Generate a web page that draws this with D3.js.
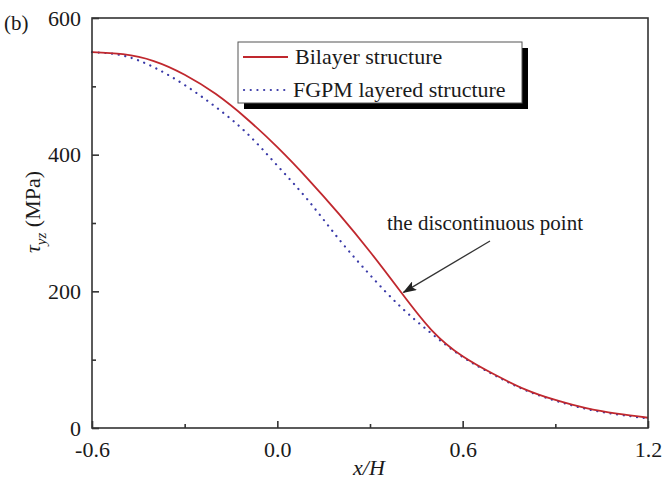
<!DOCTYPE html>
<html><head><meta charset="utf-8">
<script src="https://cdn.jsdelivr.net/npm/d3@7"></script>
<style>body{margin:0;background:#fff}svg{display:block}text{font-family:"Liberation Serif","DejaVu Serif",serif;fill:#1a1a1a}</style>
</head><body>
<svg id="c" width="662" height="490"></svg>
<script>
const xs = [-0.6,-0.5,-0.4,-0.3,-0.2,-0.1,0.0,0.1,0.2,0.3,0.4,0.5,0.6,0.7,0.8,0.9,1.0,1.1,1.2];
const bilayer = [550,547,537,517,489,453,411,364,313,258,199,143,105,79,57,41,29,21,15];
const fgpm = [550,545,528,502,470,432,384,333,276,224,177,138,104,78,56,40,28,20,14];
const xTicks = [-0.6,0.0,0.6,1.2];
const xMinor = [-0.3,0.3,0.9];
const yTicks = [0,200,400,600];
const yMinor = [100,300,500];
const legendLabels = ["Bilayer structure","FGPM layered structure"];

const svg = d3.select("#c");
const L=92,R=648,T=18,B=428;
const x = d3.scaleLinear().domain([-0.6,1.2]).range([L,R]);
const y = d3.scaleLinear().domain([0,600]).range([B,T]);
const axCol="#333";

const line = d3.line().curve(d3.curveNatural).x(d=>x(d[0])).y(d=>y(d[1]));
const gPlot = svg.append("g");
gPlot.append("path").datum(xs.map((v,i)=>[v,fgpm[i]])).attr("d",line)
  .attr("fill","none").attr("stroke","#3a3aa8").attr("stroke-width",2.2)
  .attr("stroke-dasharray","0.1,6.6").attr("stroke-linecap","round");
gPlot.append("path").datum(xs.map((v,i)=>[v,bilayer[i]])).attr("d",line)
  .attr("fill","none").attr("stroke","#c0282e").attr("stroke-width",1.8);

// frame
svg.append("rect").attr("x",L).attr("y",T).attr("width",R-L).attr("height",B-T)
  .attr("fill","none").attr("stroke",axCol).attr("stroke-width",1.6);

// axes with inward ticks
const fmtX = d => d3.format(".1f")(d).replace("−","-");
const xAxis = d3.axisBottom(x).tickValues(xTicks).tickSize(-7).tickPadding(13).tickFormat(fmtX);
const gx = svg.append("g").attr("transform",`translate(0,${B})`).call(xAxis);
gx.select(".domain").remove();
gx.selectAll("line").attr("stroke",axCol).attr("stroke-width",1.6);
gx.selectAll("text").attr("font-size",22).attr("font-family","Liberation Serif").attr("fill","#1a1a1a");
const gxm = svg.append("g").attr("transform",`translate(0,${B})`).call(d3.axisBottom(x).tickValues(xMinor).tickSize(-4).tickFormat(""));
gxm.select(".domain").remove(); gxm.selectAll("line").attr("stroke",axCol).attr("stroke-width",1.6);

const yAxis = d3.axisLeft(y).tickValues(yTicks).tickSize(-7).tickPadding(11).tickFormat(d3.format("d"));
const gy = svg.append("g").attr("transform",`translate(${L},0)`).call(yAxis);
gy.select(".domain").remove();
gy.selectAll("line").attr("stroke",axCol).attr("stroke-width",1.6);
gy.selectAll("text").attr("font-size",22).attr("font-family","Liberation Serif").attr("fill","#1a1a1a");
const gym = svg.append("g").attr("transform",`translate(${L},0)`).call(d3.axisLeft(y).tickValues(yMinor).tickSize(-4).tickFormat(""));
gym.select(".domain").remove(); gym.selectAll("line").attr("stroke",axCol).attr("stroke-width",1.6);

// axis titles
svg.append("text").attr("x",369).attr("y",475).attr("text-anchor","middle")
  .attr("font-size",22).attr("font-style","italic").text("x/H");
const yl = svg.append("text").attr("transform","translate(40,212) rotate(-90)")
  .attr("text-anchor","middle").attr("font-size",22);
yl.append("tspan").attr("font-style","italic").text("τ");
yl.append("tspan").attr("font-style","italic").attr("font-size",15).attr("dy",6).text("yz");
yl.append("tspan").attr("dy",-6).text(" (MPa)");

svg.append("text").attr("x",4).attr("y",30).attr("font-size",21).text("(b)");

// legend
const lx=238, ly=42, lw=284, lh=61;
svg.append("rect").attr("x",lx+6).attr("y",ly+6).attr("width",lw).attr("height",lh).attr("fill","#000");
svg.append("rect").attr("x",lx).attr("y",ly).attr("width",lw).attr("height",lh).attr("fill","#fff").attr("stroke","#555").attr("stroke-width",1);
svg.append("line").attr("x1",lx+5).attr("x2",lx+50).attr("y1",57).attr("y2",57).attr("stroke","#c0282e").attr("stroke-width",1.8);
svg.append("line").attr("x1",lx+6).attr("x2",lx+52).attr("y1",90).attr("y2",90).attr("stroke","#3a3aa8").attr("stroke-width",2.2)
  .attr("stroke-dasharray","0.1,6.6").attr("stroke-linecap","round");
svg.append("text").attr("x",lx+57).attr("y",64).attr("font-size",22).text(legendLabels[0]);
svg.append("text").attr("x",lx+55).attr("y",97).attr("font-size",22).text(legendLabels[1]);

// annotation
svg.append("defs").append("marker").attr("id","ah2").attr("viewBox","0 0 14 10").attr("refX",13).attr("refY",5)
  .attr("markerWidth",14).attr("markerHeight",10).attr("markerUnits","userSpaceOnUse").attr("orient","auto")
  .append("path").attr("d","M0,0 L14,5 L0,10 L3,5 Z").attr("fill","#222");
svg.append("line").attr("x1",490).attr("y1",241).attr("x2",x(0.405)+1).attr("y2",y(197)-1)
  .attr("stroke","#333").attr("stroke-width",1.3).attr("marker-end","url(#ah2)");
svg.append("text").attr("x",387).attr("y",230).attr("font-size",21).text("the discontinuous point");
</script>
</body></html>
